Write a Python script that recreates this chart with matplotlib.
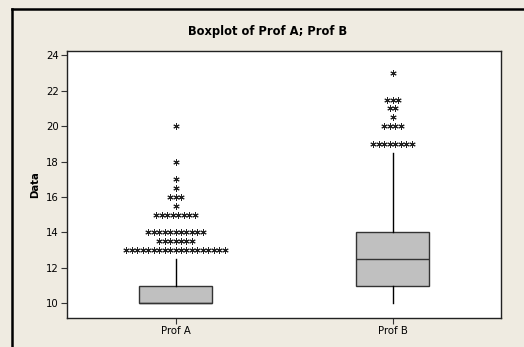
import numpy as np
import matplotlib
matplotlib.use("Agg")
import matplotlib.pyplot as plt
from matplotlib.lines import Line2D

groups = ["Prof A", "Prof B"]

# box summaries
q1 = [10, 11]
med = [10, 12.5]
q3 = [11, 14]
whislo = [10, 10]
whishi = [12.5, 18.5]

# outliers: value and how many times it occurs
out_vals = [
    [13, 13.5, 14, 15, 15.5, 16, 16.5, 17, 18, 20],
    [19, 20, 20.5, 21, 21.5, 23],
]
out_counts = [
    [19, 7, 11, 8, 1, 3, 1, 1, 1, 1],
    [8, 4, 1, 2, 3, 1],
]

bg = "#efebe1"
fig = plt.figure(figsize=(5.24, 3.47), dpi=100, facecolor=bg)
ax = fig.add_axes([0.1279, 0.0844, 0.8282, 0.7695])
ax.set_facecolor("white")

stats = []
for i in range(2):
    stats.append(dict(med=med[i], q1=q1[i], q3=q3[i],
                      whislo=whislo[i], whishi=whishi[i], fliers=[]))

ax.bxp(stats, positions=[1, 2], widths=0.335, showcaps=False,
       patch_artist=True,
       boxprops=dict(facecolor="#c0c0c0", edgecolor="#333333", linewidth=1),
       medianprops=dict(color="#333333", linewidth=1),
       whiskerprops=dict(color="black", linewidth=1))

# tied outliers are stacked side by side
step = 0.0253
for i in range(2):
    for v, n in zip(out_vals[i], out_counts[i]):
        xs = (i + 1) + (np.arange(n) - (n - 1) / 2) * step
        ax.plot(xs, np.full(n, v), linestyle="none", marker=(6, 2, 0),
                markersize=4.5, markeredgewidth=0.7, color="#222222")

ax.set_xlim(0.5, 2.5)
ax.set_ylim(9.19, 24.26)
ax.set_yticks(np.arange(10, 25, 2))
ax.set_xticks([1, 2])
ax.set_xticklabels(groups)
ax.tick_params(labelsize=7.3, length=4, width=0.8, color="#333333", pad=2)
for s in ax.spines.values():
    s.set_color("#222222")
    s.set_linewidth(1)

ax.set_ylabel("Data", fontsize=7.3, fontweight="bold", labelpad=4)
fig.text(268 / 524, 1 - 32 / 347, "Boxplot of Prof A; Prof B",
         ha="center", va="center", fontsize=8.3, fontweight="bold")

# outer frame, left and top edges
fig.add_artist(Line2D([12 / 524, 12 / 524], [0, 1 - 9 / 347],
                      color="black", linewidth=1.8))
fig.add_artist(Line2D([12 / 524, 1], [1 - 9 / 347, 1 - 9 / 347],
                      color="black", linewidth=1.8))

fig.savefig("out.png", dpi=100, facecolor=bg)
